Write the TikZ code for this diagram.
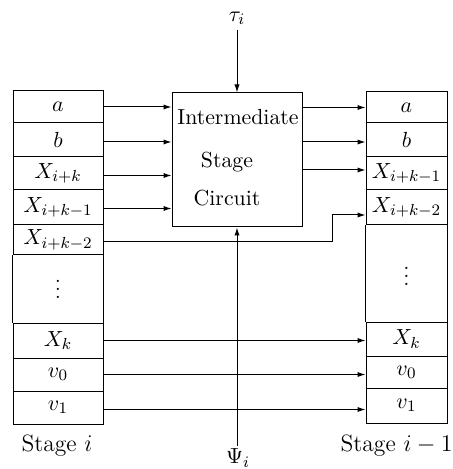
\documentclass[tikz,border=0pt]{standalone}
\usetikzlibrary{arrows.meta}
\begin{document}
\begin{tikzpicture}[x=0.5pt,y=-0.5pt,
  every node/.style={font=\fontsize{10.9}{12}\selectfont},
  mth/.style={font=\fontsize{11.4}{13}\selectfont},
  lcell/.style={draw,line width=0.5pt,inner sep=0pt,minimum width=45pt,mth},
  rcell/.style={draw,line width=0.5pt,inner sep=0pt,minimum width=40.5pt,mth},
  conn/.style={line width=0.5pt,-{Latex[length=4pt,width=2.6pt]}},
  plain/.style={line width=0.5pt}]
\useasboundingbox (0,0) rectangle (453,469);
% left column
\node[lcell,minimum height=16pt]   (la)  at (58,107)   {$a$};
\node[lcell,minimum height=17pt]   (lb)  at (58,140)   {$b$};
\node[lcell,minimum height=16.5pt] (lx1) at (58,173.5) {$X_{i+k}$};
\node[lcell,minimum height=17.5pt] (lx2) at (58,207.5) {$X_{i+k-1}$};
\node[lcell,minimum height=15pt]   (lx3) at (58,240)   {$X_{i+k-2}$};
\node[mth] (ldots) at (58,283) {$\vdots$};
\node[lcell,minimum height=17.5pt] (lxk) at (58,340.5) {$X_k$};
\node[lcell,minimum height=16.5pt] (lv0) at (58,374.5) {$v_0$};
\node[lcell,minimum height=16.5pt] (lv1) at (58,407.5) {$v_1$};
\draw[plain] (lx3.south west) -- (lxk.north west);
\draw[plain] (lx3.south east) -- (lxk.north east);
% right column
\node[rcell,minimum height=15.5pt] (ra)  at (406.5,107.5) {$a$};
\node[rcell,minimum height=17pt]   (rb)  at (406.5,140)   {$b$};
\node[rcell,minimum height=16.5pt] (rx1) at (406.5,173.5) {$X_{i+k-1}$};
\node[rcell,minimum height=17.5pt] (rx2) at (406.5,207.5) {$X_{i+k-2}$};
\node[mth] (rdots) at (406.5,270) {$\vdots$};
\node[rcell,minimum height=17pt]   (rxk) at (406.5,339)   {$X_k$};
\node[rcell,minimum height=16pt]   (rv0) at (406.5,372)   {$v_0$};
\node[rcell,minimum height=17.5pt] (rv1) at (406.5,405.5) {$v_1$};
\draw[plain] (rx2.south west) -- (rxk.north west);
\draw[plain] (rx2.south east) -- (rxk.north east);
% box
\node[draw,line width=0.5pt,minimum width=65pt,minimum height=67pt,inner sep=0pt] (box) at (237,160) {};
\node (t1) at (238,117) {Intermediate};
\node (t2) at (227,162) {Stage};
\node (t3) at (227,198) {Circuit};
% labels
\node[mth] (tau) at (237,18) {$\tau_i$};
\node[mth] (psi) at (238,458) {$\Psi_i$};
\node (sl) at (57,446) {\fontsize{11.8}{13}\selectfont Stage $i$};
\node[anchor=east,inner sep=0pt] (sr) at (453,446) {\fontsize{11.8}{13}\selectfont Stage $i-1$};
% top/bottom connectors
\coordinate (tautop) at (237,30);
\coordinate (psibot) at (237,446);
\draw[conn] (tautop) -- (box.north);
\draw[conn] (psibot) -- (box.south);
% left to box
\draw[conn] (la.east) -- (la.east -| box.west);
\draw[conn] ([yshift=-1pt]lb.east) -- ([yshift=-1pt]lb.east -| box.west);
\draw[conn] ([yshift=-1pt]lx1.east) -- ([yshift=-1pt]lx1.east -| box.west);
\draw[conn] ([yshift=-0.5pt]lx2.east) -- ([yshift=-0.5pt]lx2.east -| box.west);
% box to right
\draw[conn] (box.east |- ra.west) -- (ra.west);
\draw[conn] ([yshift=-1pt]box.east |- rb.west) -- ([yshift=-1pt]rb.west);
\coordinate (o3) at (box.east |- 0,170);
\draw[conn] (o3) -- (o3 -| rx1.west);
% bypass
\coordinate (b1) at (332,242);
\coordinate (b2) at (332,215);
\draw[plain] ([yshift=-1pt]lx3.east) -- (b1) -- (b2);
\draw[conn] (b2) -- (b2 -| rx2.west);
% bottom rows
\draw[conn] (lxk.east) -- (lxk.east -| rxk.west);
\draw[conn] (lv0.east) -- (lv0.east -| rv0.west);
\draw[conn] ([yshift=-1pt]lv1.east) -- ([yshift=-1pt]lv1.east -| rv1.west);
\end{tikzpicture}
\end{document}
